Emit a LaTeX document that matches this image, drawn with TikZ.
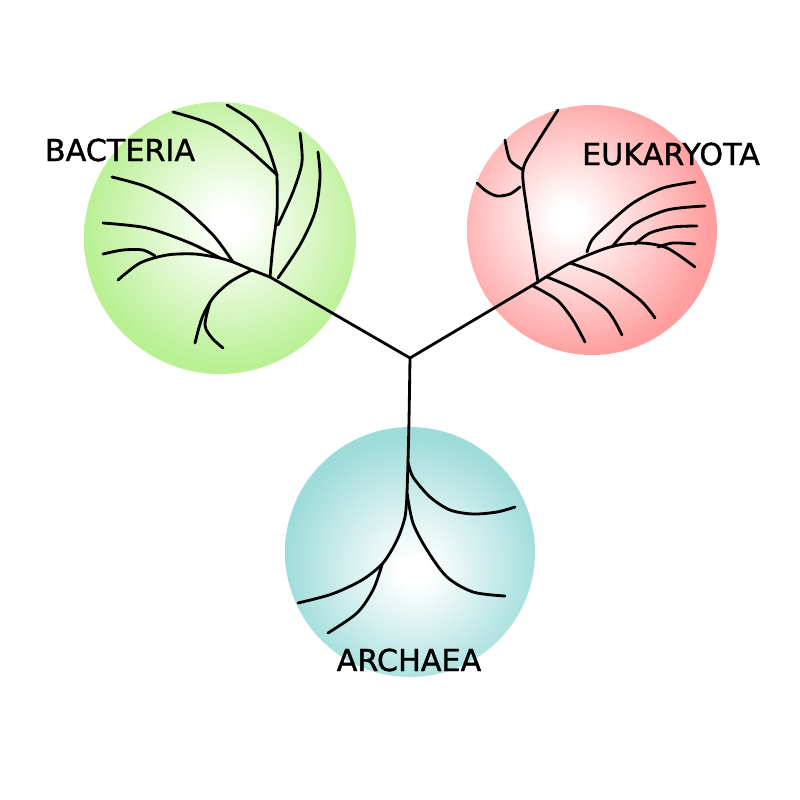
\documentclass[tikz,border=0pt]{standalone}
\usepackage{fontspec}
\setmainfont{DejaVu Sans}
\definecolor{bactcol}{RGB}{185,240,148}
\definecolor{eukcol}{RGB}{255,158,158}
\definecolor{archcol}{RGB}{158,220,218}
\pgfdeclareradialshading{bactshade}{\pgfpoint{2bp}{3bp}}{color(0bp)=(white);color(3bp)=(white);color(26bp)=(bactcol);color(100bp)=(bactcol)}
\pgfdeclareradialshading{eukshade}{\pgfpoint{-5bp}{2.5bp}}{color(0bp)=(white);color(3bp)=(white);color(27bp)=(eukcol);color(100bp)=(eukcol)}
\pgfdeclareradialshading{archshade}{\pgfpoint{1bp}{-4bp}}{color(0bp)=(white);color(3bp)=(white);color(26bp)=(archcol);color(100bp)=(archcol)}
\tikzset{
  branch/.style={line width=0.8pt, black, line cap=round, line join=round},
  domainlabel/.style={font=\fontsize{8.6}{10}\selectfont\addfontfeature{FakeBold=1.2}, inner sep=0pt},
}
\begin{document}
\begin{tikzpicture}[x=0.01cm,y=-0.01cm]
\useasboundingbox (0,0) rectangle (800,800);
\fill[white] (0,0) rectangle (800,800);
% circles
\path[shading=bactshade] (220,238) circle[radius=136];
\path[shading=eukshade] (592,230) circle[radius=125];
\path[shading=archshade] (410,552) circle[radius=125];
% root
\coordinate (root) at (410,358);
% ---- bacteria ----
\coordinate (b1) at (270,277);
\coordinate (b2) at (252,270);
\coordinate (b3) at (220,258);
\draw[branch] (root) -- (b1);
\draw[branch] plot[smooth] coordinates {(b1) (b2) (233,262) (b3)};
\draw[branch] plot[smooth] coordinates {(b3) (190,243) (147,228) (103,223)};
\draw[branch] plot[smooth] coordinates {(233,262) (213,235) (180,205) (147,187) (112,177)};
\draw[branch] plot[smooth] coordinates {(b3) (195,254) (167,255) (140,263) (118,280)};
\draw[branch] plot[smooth] coordinates {(155,256) (143,250) (123,250) (103,254)};
\coordinate (bv) at (277,175);
\draw[branch] plot[smooth] coordinates {(b1) (273,245) (277,212) (bv)};
\draw[branch] plot[smooth] coordinates {(bv) (267,145) (253,122) (227,105)};
\draw[branch] plot[smooth] coordinates {(bv) (247,148) (213,125) (173,112)};
\draw[branch] plot[smooth] coordinates {(278,225) (293,192) (302,162) (300,133)};
\draw[branch] plot[smooth] coordinates {(278,278) (300,245) (315,212) (320,178) (318,152)};
\draw[branch] plot[smooth] coordinates {(b2) (230,282) (213,298) (202,318) (195,343)};
\draw[branch] plot[smooth] coordinates {(210,302) (205,325) (212,338) (223,348)};
% ---- eukaryota ----
\coordinate (e1) at (538,282);
\draw[branch] (root) -- (e1);
\draw[branch] plot[smooth] coordinates {(e1) (570,263) (610,247) (640,243) (667,248) (695,267)};
\draw[branch] plot[smooth] coordinates {(533,286) (557,300) (573,320) (585,342)};
\draw[branch] plot[smooth] coordinates {(547,277) (577,290) (607,310) (622,335)};
\draw[branch] plot[smooth] coordinates {(570,263) (607,277) (640,300) (655,318)};
\draw[branch] plot[smooth] coordinates {(587,252) (592,240) (607,225) (633,203) (663,188) (695,182)};
\draw[branch] plot[smooth] coordinates {(612,247) (633,225) (667,210) (705,206)};
\draw[branch] plot[smooth] coordinates {(635,244) (650,233) (673,227) (697,226)};
\draw[branch] plot[smooth] coordinates {(658,247) (673,243) (695,244)};
\coordinate (ev) at (523,170);
\draw[branch] plot[smooth] coordinates {(e1) (532,243) (527,210) (ev) (537,143) (558,110)};
\draw[branch] plot[smooth] coordinates {(ev) (510,160) (505,140)};
\draw[branch] plot[smooth] coordinates {(520,187) (510,194) (497,196) (486,191) (477,183)};
% ---- archaea ----
\coordinate (a1) at (408,462);
\coordinate (a2) at (407,493);
\draw[branch] plot[smooth] coordinates {(root) (409,420) (a1) (a2)};
\draw[branch] plot[smooth] coordinates {(a1) (413,477) (430,497) (450,510) (473,514) (497,512) (515,507)};
\draw[branch] plot[smooth] coordinates {(a2) (413,523) (427,550) (447,577) (473,592) (505,596)};
\draw[branch] plot[smooth] coordinates {(a2) (405,517) (397,540) (383,563) (362,580) (332,594) (298,603)};
\draw[branch] plot[smooth] coordinates {(382,565) (373,590) (357,613) (328,633)};
% labels
\node[domainlabel] (bactlabel) at (120,150) {BACTERIA};
\node[domainlabel] (euklabel) at (671,154) {EUKARYOTA};
\node[domainlabel] (archlabel) at (409,660) {ARCHAEA};
\end{tikzpicture}
\end{document}
